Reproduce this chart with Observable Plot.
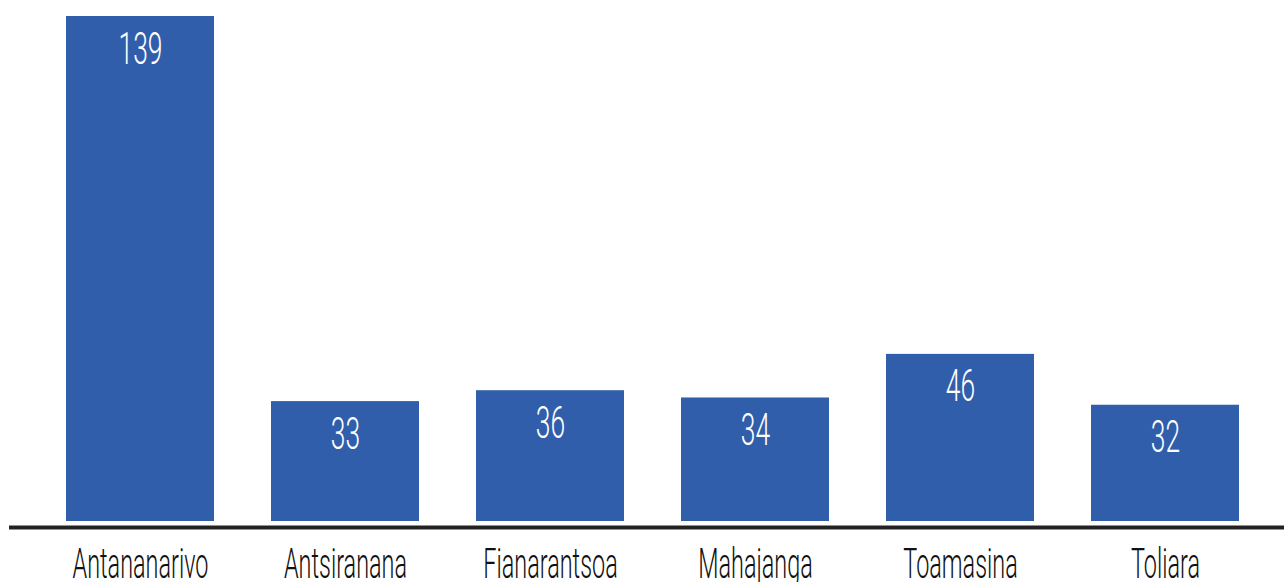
<!DOCTYPE html>
<html>
<head>
<meta charset="utf-8">
<script src="https://cdn.jsdelivr.net/npm/d3@7"></script>
<script src="https://cdn.jsdelivr.net/npm/@observablehq/plot@0.6"></script>
<style>
  html, body { margin: 0; padding: 0; background: #fff; overflow: hidden; }
  #chart svg { display: block; }
  .cond text { font-family: Roboto, "DejaVu Sans Condensed", sans-serif; font-weight: 300; }
</style>
</head>
<body>
<div id="chart"></div>
<script>
const regions = ["Antananarivo", "Antsiranana", "Fianarantsoa", "Mahajanga", "Toamasina", "Toliara"];
const counts = [139, 33, 36, 34, 46, 32];

const data = regions.map((r, i) => ({region: r, value: counts[i]}));

const chart = Plot.plot({
  width: 1284,
  height: 582,
  marginTop: 16,
  marginBottom: 61,
  marginLeft: 36,
  marginRight: 16,
  style: {background: "#fff"},
  x: {domain: regions, paddingInner: 0.28, paddingOuter: 0.14, label: null},
  y: {domain: [0, 139], axis: null},
  marks: [
    Plot.barY(data, {x: "region", y: "value", fill: "#315EAB"}),
    Plot.ruleY([0], {stroke: "#222", strokeWidth: 4, dy: 6, insetLeft: -27, insetRight: -16}),
    Plot.text(data, {x: "region", y: "value", text: d => String(d.value), dy: 33, fill: "#fff", fontSize: 44, className: "cond vals"}),
    Plot.axisX({tickSize: 0, tickPadding: 26, fontSize: 43, className: "cond ticks", color: "#111"})
  ]
});
// condense the text horizontally (style only)
chart.querySelectorAll(".cond text").forEach(t => {
  const k = t.closest(".vals") ? 0.6 : 0.545;
  const tr = t.getAttribute("transform") || "";
  t.setAttribute("transform", (tr + ` scale(${k},1)`).trim());
});
document.getElementById("chart").appendChild(chart);
</script>
</body>
</html>
